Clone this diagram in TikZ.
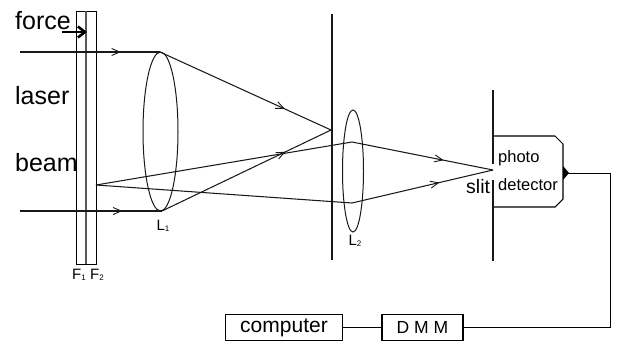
\documentclass[tikz,border=0pt]{standalone}
\usepackage{fontspec}
\setmainfont{Liberation Sans}
\usetikzlibrary{arrows.meta,decorations.markings,shapes.geometric}
\tikzset{
 ray/.style={draw=black!90,line width=1.05pt},
 wall/.style={draw=black!90,line width=1.05pt},
 ar/.style={postaction={decorate},decoration={markings,mark=at position #1 with {\arrow[line width=0.9pt]{Straight Barb[length=8pt,width=7pt]}}}},
 lens/.style={draw=black!90,line width=1pt},
 box/.style={draw=black,line width=1.1pt,minimum height=26pt,inner sep=0pt,font=\fontsize{21}{21}\selectfont},
 big/.style={inner sep=0pt,font=\fontsize{25}{25}\selectfont},
 mid/.style={inner sep=0pt,font=\fontsize{16.5}{17}\selectfont},
 small/.style={inner sep=0pt,font=\fontsize{15}{15}\selectfont}
}
\newcommand{\subtxt}[1]{\raisebox{-0.5pt}{\fontsize{8}{8}\selectfont #1}}
\begin{document}
\begin{tikzpicture}[x=1pt,y=-1pt]
\useasboundingbox (0,0) rectangle (619,341);
% points
\coordinate (inT) at (20,52);
\coordinate (inB) at (20,211);
\coordinate (lT) at (160,52);
\coordinate (lB) at (162,211);
\coordinate (f) at (331,130);
\coordinate (src) at (96,185);
\coordinate (a) at (352,142);
\coordinate (b) at (352,203);
\coordinate (s) at (493,170);
% plates
\draw[line width=0.9pt] (76,11) rectangle (96,264);
\draw[line width=2pt,draw=black!65] (85.5,11) -- (85.5,264);
% lenses
\node[lens,ellipse,minimum width=35pt,minimum height=159pt,inner sep=0pt] (L1) at (160.5,131.5) {};
\node[lens,ellipse,minimum width=21pt,minimum height=122pt,inner sep=0pt] (L2) at (353,171) {};
% screens
\draw[wall] (332,14) -- (332,260);
\draw[wall] (493,90) -- (493,164) (493,180) -- (493,261);
% rays
\draw[ray,ar=0.72] (inT) -- (lT);
\draw[ray,ar=0.72] (inB) -- (lB);
\draw[ray,ar=0.73] (lT) -- (f);
\draw[ray,ar=0.73] (lB) -- (f);
\draw[ray] (src) -- (a);
\draw[ray] (src) -- (b);
\draw[ray,ar=0.65] (a) -- (s);
\draw[ray,ar=0.62] (b) -- (s);
% force arrow
\coordinate (fa) at (62,32);
\coordinate (fb) at (87,32);
\draw[line width=2.6pt,-{Straight Barb[length=7pt,width=11pt]}] (fa) -- (fb);
% detector
\draw[line width=1.05pt] (494,136) -- (555,136) -- (563,144) -- (563,199) -- (555,207) -- (494,207);
\fill (563,166) -- (569,173) -- (563,180) -- cycle;
\coordinate (d) at (566,173);
\coordinate (c1) at (610,173);
\coordinate (c2) at (610,327);
% boxes
\node[box,minimum width=117pt] (comp) at (284,327.5) {\raisebox{-1.5pt}{computer}};
\node[box,minimum width=81pt,font=\fontsize{17.5}{18}\selectfont] (dmm) at (422.5,327.5) {D M M};
\draw[line width=1pt] (d) -- (c1) -- (c2) -- (dmm.east |- c2);
\draw[line width=1pt] (comp.east) -- (dmm.west);
% labels
\node[big,anchor=west] (tforce) at (15,21) {force};
\node[big,anchor=west] (tlaser) at (15,96) {laser};
\node[big,anchor=west] (tbeam) at (15,163) {beam};
\node[mid,anchor=west] (tphoto) at (498,158) {photo};
\node[mid,anchor=west] (tdet) at (498,185) {detector};
\node[inner sep=0pt,anchor=west,font=\fontsize{19.5}{20}\selectfont] (tslit) at (466,187) {slit};
\node[small] (tL1) at (163,226) {L\subtxt{1}};
\node[small] (tL2) at (355,241) {L\subtxt{2}};
\node[small] (tF1) at (79,275) {F\subtxt{1}};
\node[small] (tF2) at (97,275) {F\subtxt{2}};
\end{tikzpicture}
\end{document}
